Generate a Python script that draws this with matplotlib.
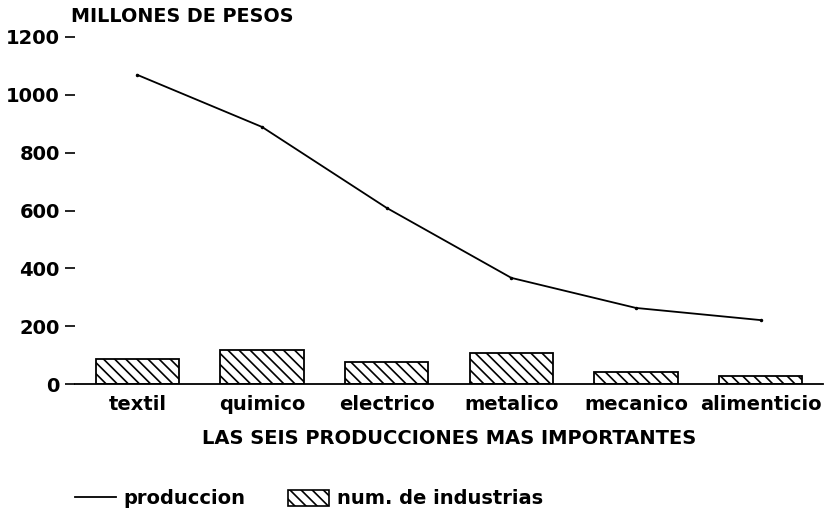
import matplotlib
matplotlib.use("Agg")
import matplotlib.pyplot as plt
from matplotlib.lines import Line2D
from matplotlib.patches import Patch

plt.rcParams['font.family'] = ['DejaVu Sans']
plt.rcParams['font.weight'] = 'bold'
plt.rcParams['hatch.linewidth'] = 1.2

categories = ["textil", "quimico", "electrico", "metalico", "mecanico", "alimenticio"]
produccion = [1069, 889, 609, 367, 263, 221]
industrias = [86, 118, 76, 107, 41, 27]
yticks = [0, 200, 400, 600, 800, 1000, 1200]

fig = plt.figure(figsize=(8.27, 5.12), dpi=100)
ax = fig.add_axes([75/827, 1-384/512, (823-75)/827, (384-37)/512])

x = list(range(len(categories)))
ax.bar(x, industrias, width=0.67, facecolor='white', edgecolor='black',
       hatch='\\\\\\', linewidth=1.3, zorder=2)
ax.plot(x, produccion, color='black', linewidth=1.3, marker='.', markersize=3, zorder=3)

ax.set_xlim(-0.5, 5.5)
ax.set_ylim(0, 1200)
ax.set_yticks(yticks)
ax.set_yticklabels([str(v) for v in yticks], fontsize=14, fontweight='bold')
ax.set_xticks(x)
ax.set_xticklabels(categories, fontsize=14, fontweight='bold')
ax.tick_params(axis='x', length=0, pad=8)
ax.tick_params(axis='y', length=7, width=1.2, pad=4)
for s in ['top', 'right', 'left']:
    ax.spines[s].set_visible(False)
ax.spines['bottom'].set_linewidth(1.3)

ax.set_xlabel("LAS SEIS PRODUCCIONES MAS IMPORTANTES", fontsize=14, fontweight='bold', labelpad=11)
fig.text(71/827, 1-17/512, "MILLONES DE PESOS", fontsize=13.8, fontweight='bold', va='center', ha='left')

handles = [Line2D([0], [0], color='black', linewidth=1.3),
           Patch(facecolor='white', edgecolor='black', hatch='\\\\\\', linewidth=1.2)]
fig.legend(handles, ["produccion", "num. de industrias"], loc='center left',
           bbox_to_anchor=(75/827, 1-499/512), frameon=False, ncol=2, borderpad=0,
           prop={'size': 14, 'weight': 'bold'}, handlelength=2.1, handleheight=0.9,
           handletextpad=0.4, columnspacing=2.2, borderaxespad=0)

fig.savefig("out.png", dpi=100, facecolor='white')
